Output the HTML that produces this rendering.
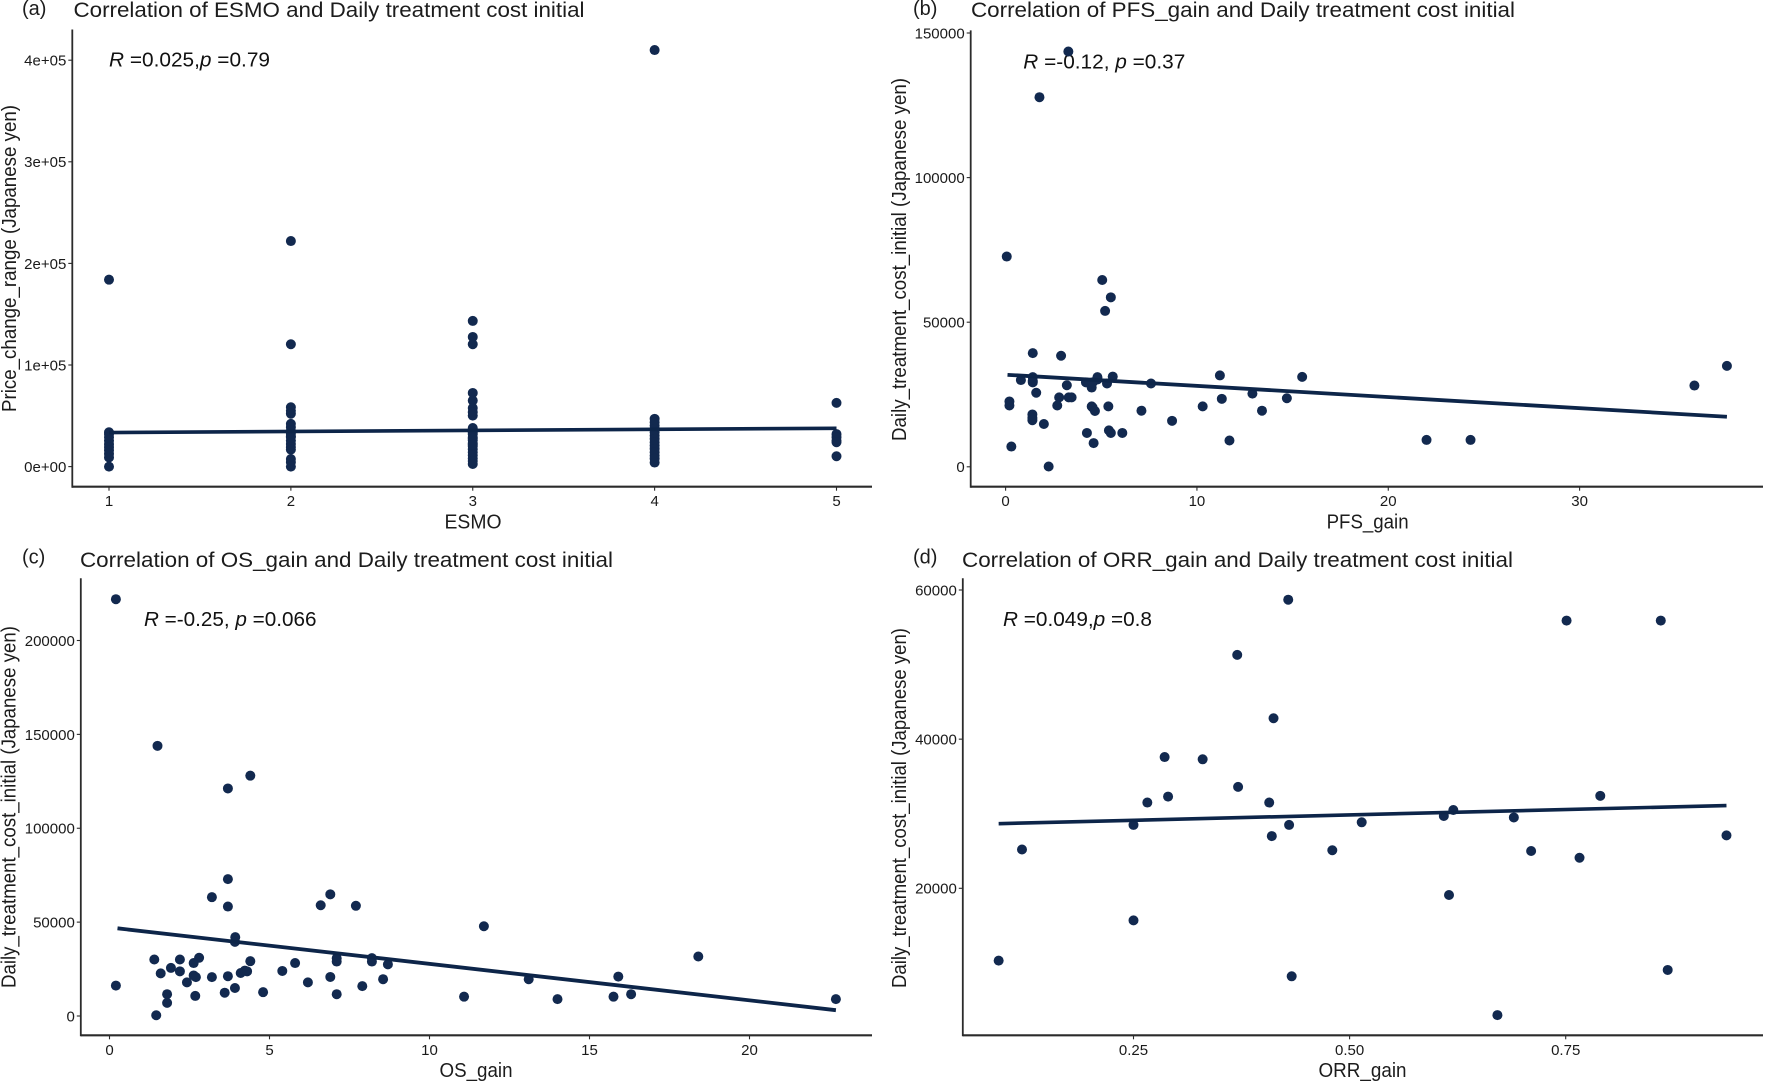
<!DOCTYPE html>
<html lang="en">
<head>
<meta charset="utf-8">
<title>Correlation of treatment benefit and daily treatment cost</title>
<style>
html,body{margin:0;padding:0;background:#fff;}
svg{display:block;font-family:"Liberation Sans",Arial,sans-serif;fill:#111;}
.tick{font-size:15px;fill:#1a1a1a;}
.title{font-size:21px;fill:#1c1c1c;}
.panel{font-size:20px;fill:#1c1c1c;}
.axt{font-size:20.5px;fill:#1c1c1c;}
.stat{font-size:20px;fill:#111;}
</style>
</head>
<body>
<svg id="fig" width="1772" height="1085" viewBox="0 0 1772 1085" xmlns="http://www.w3.org/2000/svg">
  <rect x="0" y="0" width="1772" height="1085" fill="#ffffff"/>

  <text class="panel" x="22" y="15">(a)</text>
  <text class="title" x="73.5" y="17" textLength="511" lengthAdjust="spacingAndGlyphs">Correlation of ESMO and Daily treatment cost initial</text>
  <text class="stat" x="109" y="66.7" textLength="161" lengthAdjust="spacingAndGlyphs"><tspan font-style="italic">R</tspan> =0.025,<tspan font-style="italic">p</tspan> =0.79</text>
  <text class="axt" x="473" y="528.7" text-anchor="middle" textLength="57" lengthAdjust="spacingAndGlyphs">ESMO</text>
  <text class="axt" transform="translate(16,412) rotate(-90)" x="0" y="0" textLength="307" lengthAdjust="spacingAndGlyphs">Price_change_range (Japanese yen)</text>

  <text class="panel" x="913" y="15">(b)</text>
  <text class="title" x="971" y="17" textLength="544" lengthAdjust="spacingAndGlyphs">Correlation of PFS_gain and Daily treatment cost initial</text>
  <text class="stat" x="1023.3" y="68.5" textLength="162" lengthAdjust="spacingAndGlyphs"><tspan font-style="italic">R</tspan> =-0.12, <tspan font-style="italic">p</tspan> =0.37</text>
  <text class="axt" x="1367.6" y="528.7" text-anchor="middle" textLength="82" lengthAdjust="spacingAndGlyphs">PFS_gain</text>
  <text class="axt" transform="translate(906,441) rotate(-90)" x="0" y="0" textLength="363" lengthAdjust="spacingAndGlyphs">Daily_treatment_cost_initial (Japanese yen)</text>

  <text class="panel" x="22" y="563.5">(c)</text>
  <text class="title" x="80" y="567" textLength="533" lengthAdjust="spacingAndGlyphs">Correlation of OS_gain and Daily treatment cost initial</text>
  <text class="stat" x="144" y="626" textLength="172.5" lengthAdjust="spacingAndGlyphs"><tspan font-style="italic">R</tspan> =-0.25, <tspan font-style="italic">p</tspan> =0.066</text>
  <text class="axt" x="476" y="1077" text-anchor="middle" textLength="73" lengthAdjust="spacingAndGlyphs">OS_gain</text>
  <text class="axt" transform="translate(15.5,988) rotate(-90)" x="0" y="0" textLength="362" lengthAdjust="spacingAndGlyphs">Daily_treatment_cost_initial (Japanese yen)</text>

  <text class="panel" x="913" y="563.5">(d)</text>
  <text class="title" x="962" y="567" textLength="551" lengthAdjust="spacingAndGlyphs">Correlation of ORR_gain and Daily treatment cost initial</text>
  <text class="stat" x="1003" y="626" textLength="149" lengthAdjust="spacingAndGlyphs"><tspan font-style="italic">R</tspan> =0.049,<tspan font-style="italic">p</tspan> =0.8</text>
  <text class="axt" x="1362.5" y="1077" text-anchor="middle" textLength="88" lengthAdjust="spacingAndGlyphs">ORR_gain</text>
  <text class="axt" transform="translate(906,988) rotate(-90)" x="0" y="0" textLength="360" lengthAdjust="spacingAndGlyphs">Daily_treatment_cost_initial (Japanese yen)</text>
</svg>
<script>
// Panel (a)
var aXTicks = [1, 2, 3, 4, 5];
var aXTickLabels = ['1', '2', '3', '4', '5'];
var aYTicks = [0, 100000, 200000, 300000, 400000];
var aYTickLabels = ['0e+00', '1e+05', '2e+05', '3e+05', '4e+05'];
var aPointsX = [1,1,1,1,1,1,1,1,1,1,1,
  2,2,2,2,2,2,2,2,2,2,2,2,2,2,2,2,2,2,
  3,3,3,3,3,3,3,3,3,3,3,3,3,3,3,3,3,3,3,3,3,3,3,3,3,
  4,4,4,4,4,4,4,4,4,4,4,4,4,4,4,
  5,5,5,5,5,5];
var aPointsY = [184000,33800,32000,29000,25600,22000,19000,16000,12500,9000,0,
  222000,120400,58400,55000,52000,42000,38700,35400,32200,28900,25600,22300,19000,16700,7500,4300,0,30000,
  143400,127600,120400,72500,65000,57700,53500,50200,38000,35000,32000,29000,26000,23000,20000,17000,14000,11000,8000,5500,2600,36500,33500,27500,21500,
  410000,47000,43700,40400,37100,33900,30600,27300,24000,20800,17500,14200,10900,7700,4000,
  62700,32000,28900,25600,24000,10200];
var aFitX = [1, 5];
var aFitY = [33500, 37700];

// Panel (b)
var bXTicks = [0, 10, 20, 30];
var bXTickLabels = ['0', '10', '20', '30'];
var bYTicks = [0, 50000, 100000, 150000];
var bYTickLabels = ['0', '50000', '100000', '150000'];
var bPointsX = [3.28,1.77,0.06,5.05,5.5,5.2,1.42,2.9,0.8,1.42,1.42,1.42,1.6,3.2,2.8,2.7,3.3,3.45,0.2,0.2,1.4,1.4,1.4,2.0,0.3,2.25,4.2,4.5,4.8,4.8,4.55,5.3,5.6,4.5,4.55,4.67,5.37,4.25,4.6,5.4,5.5,6.1,7.1,7.6,8.7,10.3,11.2,11.3,11.7,12.9,13.4,14.7,15.5,22,24.3,36,37.7];
var bPointsY = [143600,127800,72700,64600,58600,53900,39300,38400,30000,31000,29800,29200,25600,28200,24000,21200,24000,24000,22600,21200,18100,16900,16100,14800,7000,100,29200,27400,31000,30200,29200,28800,31200,20900,20500,19300,20900,11700,8200,12600,11700,11700,19400,28800,15900,20900,31600,23500,9100,25300,19400,23700,31100,9300,9300,28100,34900];
var bFitX = [0.1, 37.7];
var bFitY = [31800, 17300];

// Panel (c)
var cXTicks = [0, 5, 10, 15, 20];
var cXTickLabels = ['0', '5', '10', '15', '20'];
var cYTicks = [0, 50000, 100000, 150000, 200000];
var cYTickLabels = ['0', '50000', '100000', '150000', '200000'];
var cPointsX = [0.2,1.5,4.4,3.7,3.7,3.2,6.9,6.6,3.7,7.7,11.7,3.93,3.92,18.4,1.4,2.2,2.8,2.63,4.4,5.8,7.1,7.1,8.2,8.2,8.7,1.6,1.92,2.2,2.63,2.7,3.2,3.7,2.42,4.1,4.23,4.3,5.4,6.2,6.9,8.55,7.9,13.1,15.9,0.2,1.8,1.8,1.46,2.68,3.6,3.92,4.8,7.1,11.08,14,15.75,16.3,22.7];
var cPointsY = [222000,143900,128000,121200,72900,63300,64800,59000,58300,58700,47800,42000,39500,31700,30100,30100,31000,28200,29200,28200,30800,29000,30800,29000,27500,22700,25600,23800,21600,20700,20700,21200,17900,22900,24200,23800,24000,17900,20800,19600,15900,19600,21000,16200,11600,7000,400,10700,12400,14900,12700,11600,10300,9000,10300,11600,9000];
var cFitX = [0.25, 22.7];
var cFitY = [46700, 3100];

// Panel (d)
var dXTicks = [0.25, 0.5, 0.75];
var dXTickLabels = ['0.25', '0.50', '0.75'];
var dYTicks = [20000, 40000, 60000];
var dYTickLabels = ['20000', '40000', '60000'];
var dPointsX = [0.429,0.751,0.86,0.37,0.412,0.286,0.33,0.371,0.29,0.266,0.407,0.79,0.62,0.609,0.69,0.514,0.25,0.43,0.41,0.936,0.121,0.48,0.71,0.766,0.615,0.25,0.094,0.868,0.433,0.671];
var dPointsY = [58700,55900,55900,51300,42800,37600,37300,33600,32300,31500,31500,32400,30500,29700,29500,28850,28500,28500,27000,27100,25200,25100,25000,24100,19100,15700,10300,9050,8200,3000];
var dFitX = [0.094, 0.936];
var dFitY = [28670, 31100];

var NS = 'http://www.w3.org/2000/svg';
var fig = document.getElementById('fig');
var INK = '#2b2b2b';
var DOT = '#12294f';
var FIT = '#0d2549';

function linearScale(d0, p0, d1, p1) {
  return function (v) { return p0 + (v - d0) * (p1 - p0) / (d1 - d0); };
}
function make(tag, attrs, parent) {
  var el = document.createElementNS(NS, tag);
  for (var k in attrs) el.setAttribute(k, attrs[k]);
  parent.appendChild(el);
  return el;
}

function drawPanel(id, frame, sx, sy, xTicks, xLabels, yTicks, yLabels, px, py, fx, fy, fitWidth) {
  var g = make('g', {}, fig);
  
  

  var yAxis = make('line', {x1: frame.left, y1: frame.top, x2: frame.left, y2: frame.bottom + 1, stroke: INK, 'stroke-width': 1.8}, g);
  
  
  var xAxis = make('line', {x1: frame.left, y1: frame.bottom, x2: frame.right, y2: frame.bottom, stroke: INK, 'stroke-width': 2.1}, g);
  
  

  xTicks.forEach(function (v, i) {
    var x = sx(v);
    var mark = make('line', {x1: x, y1: frame.bottom, x2: x, y2: frame.bottom + 4, stroke: INK, 'stroke-width': 1.1}, g);
    
    
    var label = make('text', {x: x, y: frame.bottom + 19.5, 'text-anchor': 'middle', 'class': 'tick'}, g);
    label.textContent = xLabels[i];
    
    
  });

  yTicks.forEach(function (v, i) {
    var y = sy(v);
    var mark = make('line', {x1: frame.left - 4, y1: y, x2: frame.left, y2: y, stroke: INK, 'stroke-width': 1.1}, g);
    
    
    var label = make('text', {x: frame.left - 6, y: y + 5.4, 'text-anchor': 'end', 'class': 'tick'}, g);
    label.textContent = yLabels[i];
    
    
  });

  px.forEach(function (v, i) {
    var dot = make('circle', {cx: sx(v), cy: sy(py[i]), r: 5, fill: DOT}, g);
    
    
  });

  var fit = make('line', {x1: sx(fx[0]), y1: sy(fy[0]), x2: sx(fx[1]), y2: sy(fy[1]), stroke: FIT, 'stroke-width': fitWidth}, g);
  
  
}

drawPanel('a', {left: 72.3, right: 872, top: 29.5, bottom: 486.7},
  linearScale(1, 109, 5, 836.5), linearScale(0, 466.6, 400000, 60.2),
  aXTicks, aXTickLabels, aYTicks, aYTickLabels, aPointsX, aPointsY, aFitX, aFitY, 3.6);

drawPanel('b', {left: 970.7, right: 1763, top: 30.4, bottom: 486.7},
  linearScale(0, 1005.6, 30, 1579.6), linearScale(0, 466.8, 150000, 33),
  bXTicks, bXTickLabels, bYTicks, bYTickLabels, bPointsX, bPointsY, bFitX, bFitY, 3.8);

drawPanel('c', {left: 80.8, right: 872, top: 578.3, bottom: 1035.3},
  linearScale(0, 109.5, 20, 749.5), linearScale(0, 1016, 200000, 640.5),
  cXTicks, cXTickLabels, cYTicks, cYTickLabels, cPointsX, cPointsY, cFitX, cFitY, 3.8);

drawPanel('d', {left: 962.8, right: 1763, top: 578.3, bottom: 1035.3},
  linearScale(0.25, 1133.5, 0.75, 1565.7), linearScale(20000, 888.3, 60000, 590),
  dXTicks, dXTickLabels, dYTicks, dYTickLabels, dPointsX, dPointsY, dFitX, dFitY, 3.6);
</script>
</body>
</html>
